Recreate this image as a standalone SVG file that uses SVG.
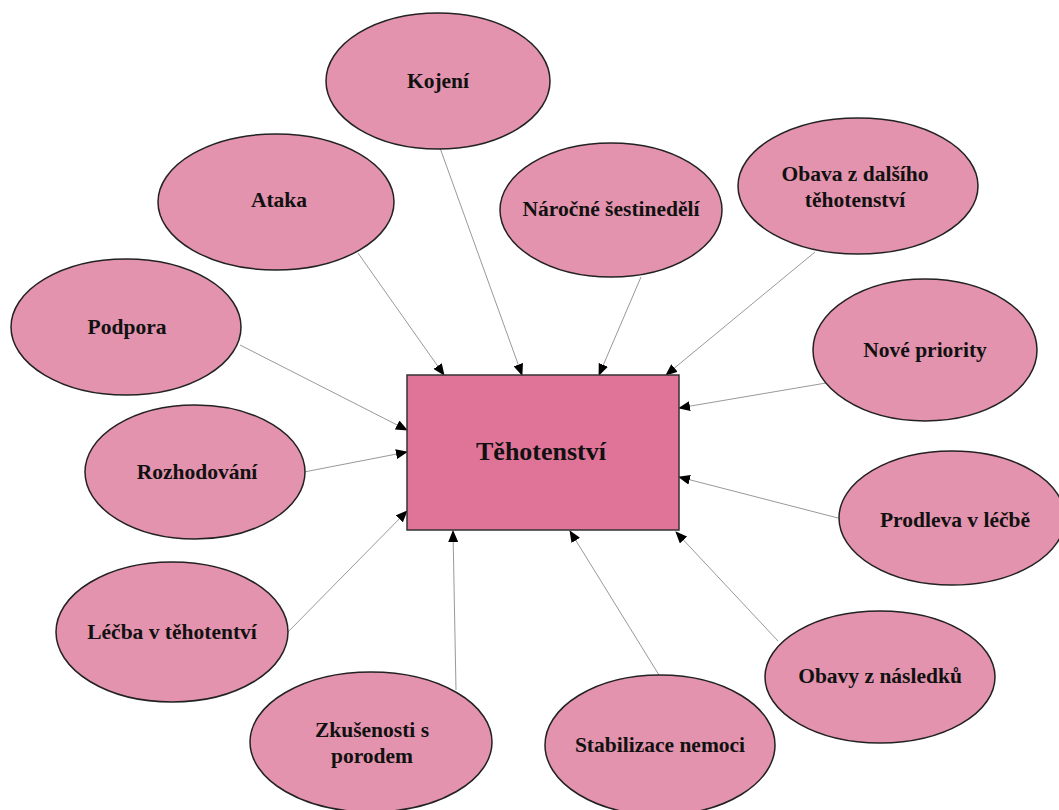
<svg xmlns="http://www.w3.org/2000/svg" width="1059" height="810" viewBox="0 0 1059 810">
<defs>
<marker id="ah" markerWidth="12" markerHeight="10" refX="11" refY="5" orient="auto" markerUnits="userSpaceOnUse">
<path d="M0,0 L12,5 L0,10 Z" fill="#000"/>
</marker>
<style>
.n ellipse{fill:#E393AD;stroke:#222;stroke-width:1.5}
.n text,.c text{font-family:"Liberation Serif","Times New Roman",serif;font-weight:bold;font-size:21.5px;fill:#111;text-anchor:middle}
.e line{stroke:#999;stroke-width:1;marker-end:url(#ah)}
</style>
</defs>
<rect width="1059" height="810" fill="#fff"/>
<g class="e" id="connectors">
<line x1="440" y1="148" x2="522" y2="375"/>
<line x1="358" y1="253" x2="444" y2="375"/>
<line x1="641" y1="277" x2="599" y2="375"/>
<line x1="815" y1="252" x2="666" y2="375"/>
<line x1="826" y1="383" x2="679" y2="408"/>
<line x1="838" y1="518" x2="679" y2="477"/>
<line x1="778" y1="641" x2="676" y2="532"/>
<line x1="659" y1="675" x2="570" y2="531"/>
<line x1="456" y1="690" x2="453" y2="531"/>
<line x1="288" y1="632" x2="407" y2="511"/>
<line x1="304" y1="472" x2="407" y2="452"/>
<line x1="240" y1="345" x2="407" y2="430"/>
</g>
<g class="c" id="center">
<rect x="407" y="375" width="272" height="155" fill="#E07498" stroke="#333" stroke-width="1.5"/>
<text x="541" y="460" style="font-size:26px">Těhotenství</text>
</g>
<g class="n" id="kojeni"><ellipse cx="438" cy="81" rx="112" ry="68"/><text x="438" y="88">Kojení</text></g>
<g class="n" id="ataka"><ellipse cx="276" cy="202" rx="118" ry="68"/><text x="279" y="207">Ataka</text></g>
<g class="n" id="narocne"><ellipse cx="611" cy="210" rx="111" ry="67"/><text x="611" y="216">Náročné šestinedělí</text></g>
<g class="n" id="obava"><ellipse cx="858" cy="186" rx="120" ry="68"/><text x="855" y="181">Obava z dalšího</text><text x="855" y="207">těhotenství</text></g>
<g class="n" id="podpora"><ellipse cx="126" cy="327" rx="115" ry="68"/><text x="127" y="334">Podpora</text></g>
<g class="n" id="nove"><ellipse cx="925" cy="350" rx="112" ry="71"/><text x="925" y="357">Nové priority</text></g>
<g class="n" id="rozhodovani"><ellipse cx="195" cy="472" rx="110" ry="67"/><text x="197" y="479">Rozhodování</text></g>
<g class="n" id="prodleva"><ellipse cx="952" cy="518" rx="113" ry="67"/><text x="955" y="527">Prodleva v léčbě</text></g>
<g class="n" id="lecba"><ellipse cx="172" cy="632" rx="116" ry="70"/><text x="172" y="639">Léčba v těhotentví</text></g>
<g class="n" id="obavy"><ellipse cx="880" cy="677" rx="115" ry="66"/><text x="880" y="683">Obavy z následků</text></g>
<g class="n" id="zkusenosti"><ellipse cx="371" cy="742" rx="121" ry="70"/><text x="372" y="737">Zkušenosti s</text><text x="372" y="763">porodem</text></g>
<g class="n" id="stabilizace"><ellipse cx="660" cy="745" rx="115" ry="70"/><text x="660" y="752">Stabilizace nemoci</text></g>
</svg>
